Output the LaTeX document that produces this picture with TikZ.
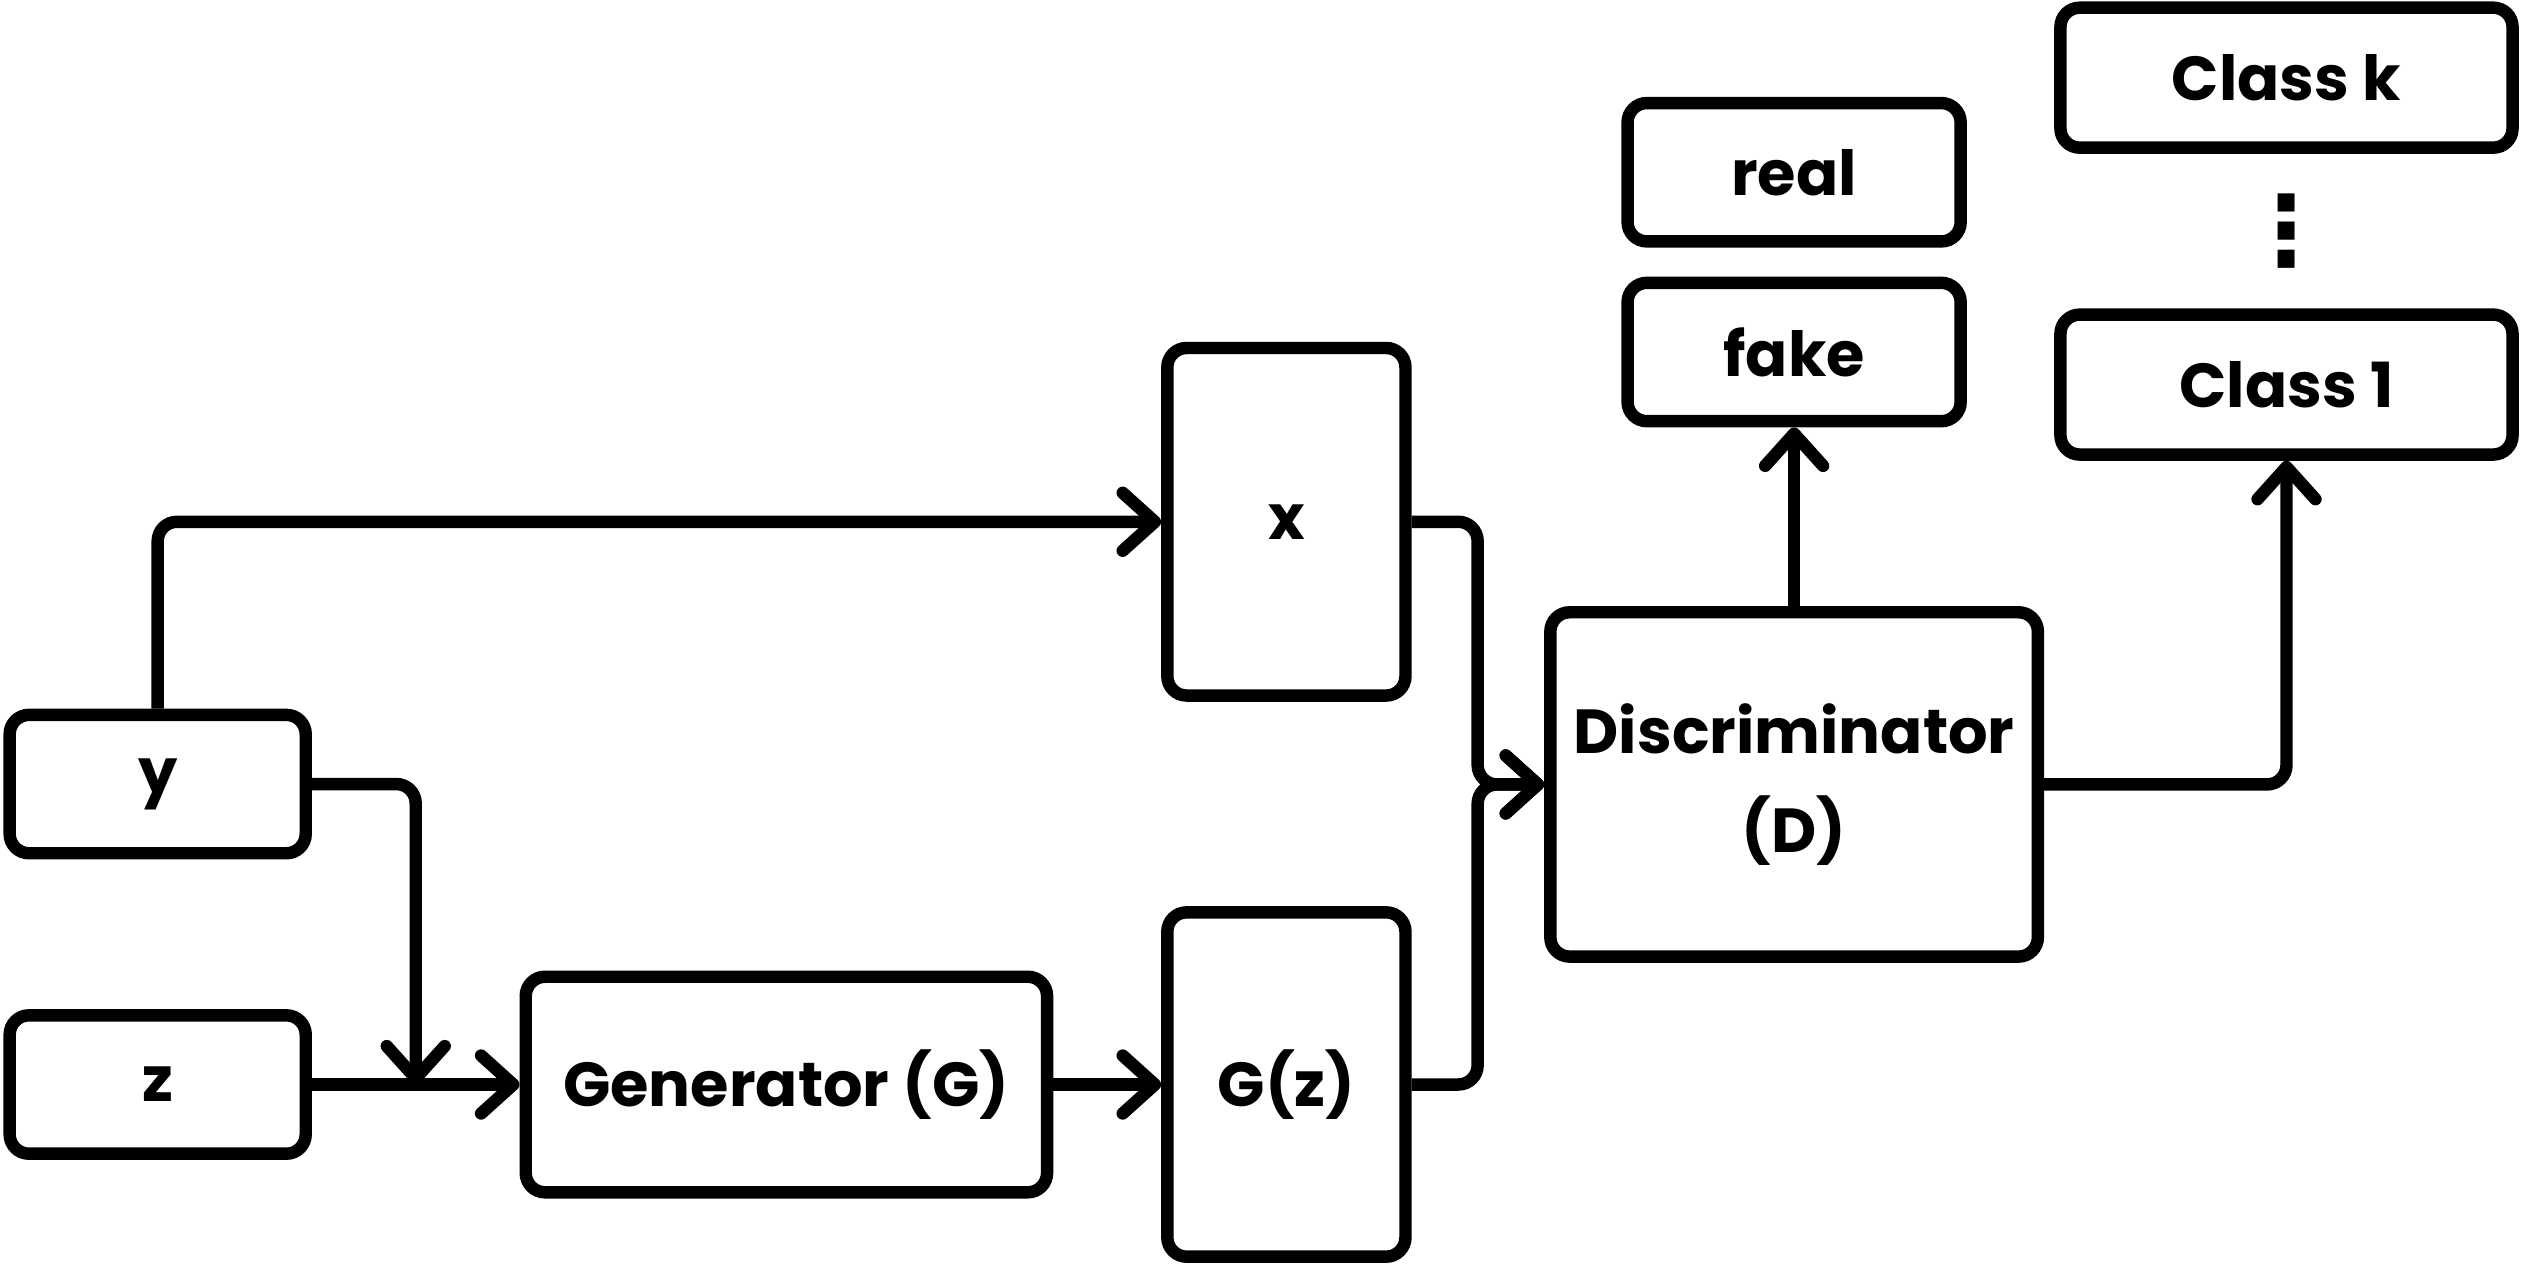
\documentclass[tikz,border=0pt]{standalone}
\usepackage{fontspec}
\setmainfont{Poppins}
\newfontfamily\symfont{DejaVu Sans}
\usetikzlibrary{positioning, arrows.meta, calc}

\begin{document}
\begin{tikzpicture}[node distance = 1 cm,
        box/.style={draw, line width=2.2pt, rounded corners=0.12cm, align=center, inner sep=0pt,
                    font=\bfseries\fontsize{11}{17.6}\selectfont},
        conn/.style={line width=2.2pt, rounded corners=0.12cm,
                    -{Straight Barb[length=0.2cm, width=0.36cm, round]}}]
        \useasboundingbox (0,0) rectangle (15.68,-7.893);

        % inputs and generator
        \node[box, minimum width=1.84cm, minimum height=0.86cm] (z) at (0.98,-6.74) {z};
        \node[box, minimum width=1.84cm, minimum height=0.86cm] (y) [above = 0.93 cm of z] {y};
        \node[box, minimum width=3.24cm, minimum height=1.34cm] (gen) [right = 1.29 cm of z] {Generator (G)};
        \node[box, minimum width=1.48cm, minimum height=2.14cm] (gz) [right = 0.67 cm of gen] {G(z)};
        \node[box, minimum width=1.48cm, minimum height=2.16cm] (x) [above = 1.27 cm of gz] {x};

        % discriminator and outputs
        \node[box, minimum width=3.03cm, minimum height=2.14cm] (disc) at (11.15,-4.875) {Discriminator\\(D)};
        \node[box, minimum width=2.07cm, minimum height=0.86cm] (fake) [above = 1.11 cm of disc] {fake};
        \node[box, minimum width=2.07cm, minimum height=0.86cm] (real) [above = 0.18 cm of fake] {real};
        \node[box, minimum width=2.81cm, minimum height=0.87cm] (c1) at (14.21,-2.39) {Class 1};
        \node[box, minimum width=2.81cm, minimum height=0.87cm] (ck) [above = 0.96 cm of c1] {Class k};
        \node[font=\symfont\bfseries\fontsize{17}{17}\selectfont, inner sep=0pt] (dots) at ($(c1.north)!0.5!(ck.south)$) {⋮};

        \coordinate (jn) at ($(z.east)!0.5!(gen.west)$);

        \draw[conn] (y.north) |- (x.west);
        \draw[conn] (y.east) -| (jn);
        \draw[conn] (z.east) -- (gen.west);
        \draw[conn] (gen.east) -- (gz.west);

        \draw[conn] (x.east) -- ++(0.41,0) |- (disc.west);
        \draw[conn] (gz.east) -- ++(0.41,0) |- (disc.west);

        \draw[conn] (disc.north) -- (fake.south);
        \draw[conn] (disc.east) -| (c1.south);
\end{tikzpicture}
\end{document}
